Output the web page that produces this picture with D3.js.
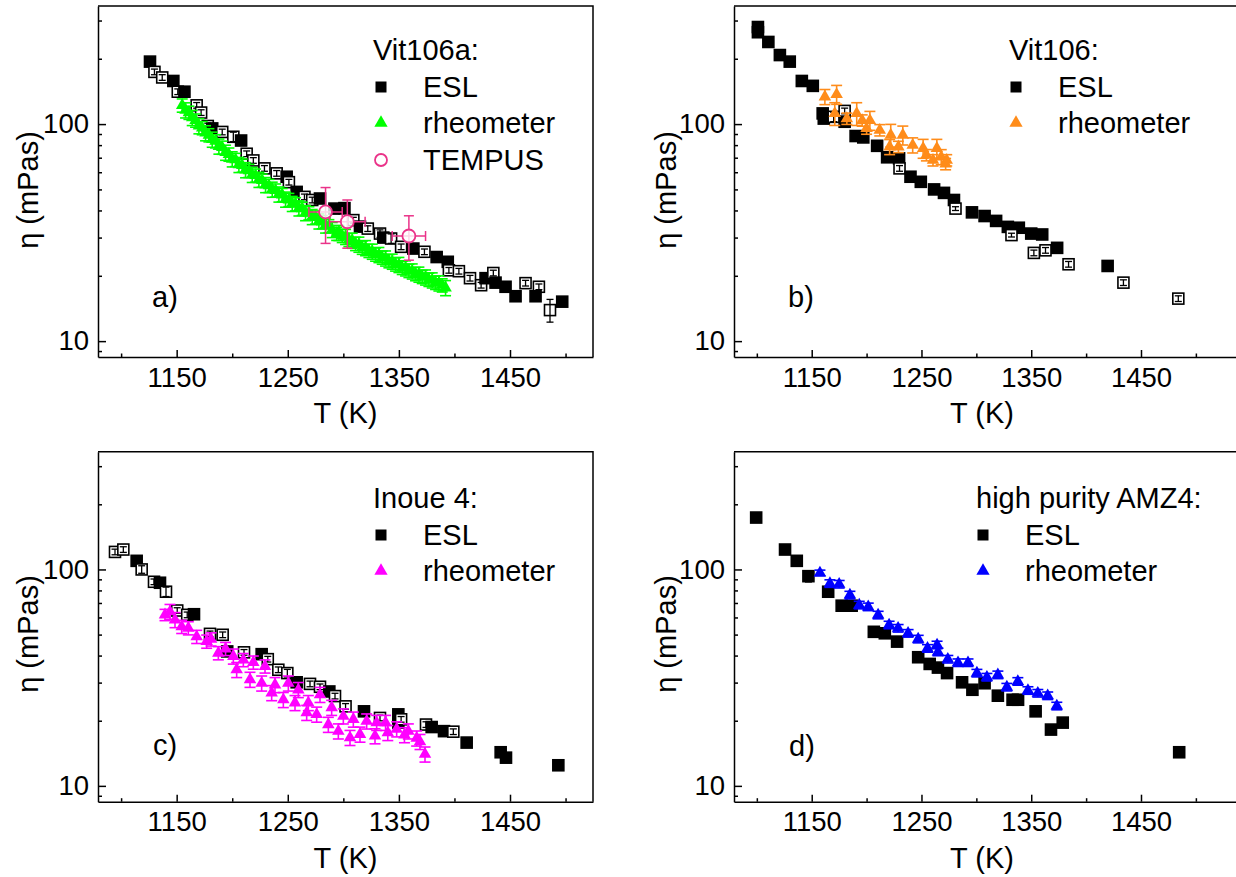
<!DOCTYPE html>
<html>
<head>
<meta charset="utf-8">
<script src="https://cdn.jsdelivr.net/npm/d3@7"></script>
<style>
  body { margin: 0; background: #fff; }
  svg { display: block; }
  text { font-family: "Liberation Sans", Arial, sans-serif; fill: #000; }
</style>
</head>
<body>
<svg id="chart" width="1236" height="877"></svg>
<script>
// ---- Viscosity data, T in K, eta in mPas ----
// ESL rows: [T, eta, relative error, open marker (1) or filled (0)]
// rheometer rows: [T, eta, relative error]
// TEMPUS rows: [T, eta, lower, upper, dT]

const eslA = [
  [1126,194,0.03,0],[1130,174,0.03,1],[1137,164,0.03,1],[1147,158,0.03,0],[1151,141,0.03,1],
  [1157,141,0.03,0],[1168,122,0.03,1],[1172,113,0.03,1],[1178,98,0.03,1],[1182,95.5,0.03,0],
  [1191,92,0.03,1],[1201,87.4,0.05,1],[1208,84,0.04,0],[1213,73,0.03,1],[1219,68,0.03,1],
  [1229,62.5,0.03,1],[1240,59.3,0.03,1],[1249,57.2,0.03,0],[1251,54,0.03,1],[1258,48.7,0.03,0],
  [1265,46.2,0.03,1],[1272,44.7,0.03,1],[1279,45.4,0.03,0],[1292,40.8,0.03,0],[1301,41,0.06,0],
  [1309,36.1,0.03,1],[1315,33.7,0.03,0],[1322,33,0.03,1],[1333,31.3,0.04,1],[1336,30,0.03,0],
  [1343,29.7,0.05,1],[1352,27.2,0.03,1],[1363,26.7,0.03,0],[1373,25.8,0.03,1],[1384,24.4,0.04,0],
  [1394,23.2,0.03,0],[1395,21.2,0.03,1],[1404,21,0.03,1],[1414,19.5,0.03,1],[1424,18.1,0.03,1],
  [1428,19.5,0.03,0],[1435,20.6,0.03,1],[1437,18.6,0.04,0],[1446,17.8,0.03,0],[1455,16.1,0.03,0],
  [1464,18.5,0.03,1],[1476,17.8,0.03,1],[1473,16.1,0.04,0],[1486,13.9,0.12,1],[1497,15.2,0.03,0]
];
const rheoA = [
  [1155,122,0.07],[1158,116,0.08],[1161,113,0.07],[1164,107,0.08],[1167,104,0.07],[1170,98,0.08],
  [1173,96,0.07],[1176,91,0.08],[1179,89,0.07],[1182,85,0.08],[1185,83.5,0.07],[1188,79,0.08],
  [1191,78,0.07],[1194,74,0.08],[1197,72.5,0.07],[1200,69,0.08],[1203,68.5,0.07],[1206,65,0.08],
  [1209,64.5,0.07],[1212,61.5,0.08],[1215,61,0.07],[1218,58.5,0.08],[1221,58,0.07],[1224,55.5,0.08],
  [1227,55,0.07],[1230,52.5,0.08],[1233,52,0.07],[1236,50,0.08],[1239,49.5,0.07],[1242,47.5,0.08],
  [1245,47.2,0.07],[1248,45,0.08],[1251,44.8,0.07],[1254,43,0.08],[1257,42.8,0.07],[1260,41,0.08],
  [1263,40.8,0.07],[1266,39,0.08],[1269,38.9,0.07],[1272,37.4,0.08],[1275,37.2,0.07],[1278,35.7,0.08],
  [1281,35.4,0.07],[1284,34.2,0.08],[1287,33.9,0.07],[1290,32.6,0.08],[1294,31.3,0.07],[1296,31.6,0.08],
  [1299,30.6,0.07],[1302,30.3,0.08],[1305,29.3,0.07],[1308,29.1,0.08],[1311,28.1,0.07],[1314,27.9,0.08],
  [1317,27.0,0.07],[1320,26.9,0.08],[1323,26.1,0.07],[1326,25.9,0.08],[1329,25.1,0.07],[1332,25.0,0.08],
  [1335,24.3,0.07],[1338,24.1,0.08],[1341,23.4,0.07],[1344,23.3,0.08],[1347,22.6,0.07],[1350,22.5,0.08],
  [1353,21.8,0.07],[1356,21.7,0.08],[1359,21.1,0.07],[1362,21.0,0.08],[1365,20.4,0.07],[1368,20.3,0.08],
  [1371,19.8,0.07],[1374,19.7,0.08],[1377,19.2,0.07],[1380,19.1,0.08],[1383,18.6,0.07],[1386,18.5,0.08],
  [1389,18.1,0.07],[1392,17.6,0.08]
];
const tempusA = [
  [1284,39.4,28.2,51,15],[1303.6,35.5,26.8,44.7,16],[1359,30.5,23.6,37.8,15]
];

const eslB = [
  [1101,280,0.02,0],[1101,265,0.02,0],[1110.5,239,0.02,0],[1121,208,0.02,0],[1130,194,0.02,0],
  [1141,158,0.02,0],[1151,150,0.02,0],[1160,112,0.03,0],[1161,106,0.03,0],[1170,108,0.05,1],
  [1180,115,0.03,1],[1180,102.5,0.03,0],[1190,88.1,0.03,0],[1197,86.8,0.03,0],[1209.6,79.4,0.03,0],
  [1218.7,70.3,0.03,0],[1229.6,69.5,0.03,0],[1230,62.5,0.03,1],[1240,57.2,0.02,0],[1249.4,54.2,0.02,0],
  [1261.5,50,0.02,0],[1270.5,48.2,0.02,0],[1279.6,44.7,0.02,0],[1281,40.8,0.02,1],[1296,39.2,0.02,0],
  [1307.5,37.7,0.02,0],[1318,35.8,0.02,0],[1328.7,33.6,0.02,0],[1338.7,33.3,0.02,0],[1332,30.8,0.02,1],
  [1350,31.3,0.02,0],[1360,31,0.02,0],[1352.4,25.5,0.03,1],[1363,26.2,0.03,1],[1373.6,26.9,0.02,0],
  [1384,22.6,0.03,1],[1419.6,22.2,0.02,0],[1434,18.6,0.03,1],[1484,15.7,0.03,1]
];
const rheoB = [
  [1162,133.6,0.08],[1172.7,137,0.1],[1171,112,0.12],[1182,106,0.06],[1191,112,0.12],[1196,104,0.06],
  [1203,104,0.1],[1200,95.5,0.06],[1212,93.8,0.06],[1222,89,0.12],[1221,78.6,0.08],[1233,89,0.1],
  [1229,78.6,0.06],[1242,80,0.08],[1251.5,77.3,0.1],[1254.5,72,0.06],[1264,77.3,0.1],[1260.5,68.2,0.06],
  [1268,70.6,0.08],[1273,68.2,0.06],[1272,65.5,0.06]
];

const eslC = [
  [1094.5,120.5,0.03,1],[1102,123.6,0.03,1],[1114,109.6,0.03,0],[1118.5,100,0.04,1],[1129.6,87.7,0.03,1],
  [1135,86.8,0.03,0],[1140.4,78.9,0.05,1],[1150.5,64.6,0.03,1],[1159.5,61.7,0.03,1],[1165.6,62.1,0.03,0],
  [1180,50.4,0.03,1],[1191.4,49.9,0.03,1],[1195.5,41.8,0.03,0],[1210.6,41.4,0.03,1],[1226.5,40.6,0.03,0],
  [1232,38.5,0.03,1],[1241.5,34.4,0.03,1],[1249.6,33.2,0.04,1],[1258,30.1,0.03,0],[1270,29.6,0.03,1],
  [1279,28.7,0.03,1],[1287.4,27.3,0.03,0],[1292.5,26,0.03,1],[1302,23.3,0.03,1],[1318.6,22.1,0.03,0],
  [1333,20.6,0.03,1],[1349.5,21.4,0.03,0],[1349.5,19.6,0.03,0],[1352,20.3,0.03,1],[1374.4,19.2,0.03,1],
  [1379.5,18.7,0.03,0],[1390.6,17.9,0.03,0],[1399,17.8,0.03,1],[1411,15.85,0.03,0],[1441.6,14.3,0.03,0],
  [1446.4,13.5,0.03,0],[1493.5,12.45,0.03,0]
];
const rheoC = [
  [1139.5,61.7,0.06],[1144,63.8,0.08],[1148.5,58.5,0.08],[1154.5,54.4,0.07],[1160.5,53.6,0.07],
  [1168,48.9,0.07],[1177,46.5,0.07],[1181,47.6,0.07],[1187.5,41.1,0.07],[1194,43,0.07],[1201,39.7,0.08],
  [1210,38.2,0.07],[1219,37.2,0.07],[1229.5,35.7,0.07],[1238.5,29.3,0.08],[1250.5,29.8,0.08],
  [1259.5,27.8,0.08],[1268.5,24.2,0.08],[1279,26.4,0.08],[1289.5,23,0.08],[1300,21,0.08],[1309,20.3,0.08],
  [1321,19.9,0.08],[1330,19.6,0.08],[1338,19.6,0.08],[1348,18.3,0.08],[1358.5,17.9,0.08],[1369,16,0.08],
  [1373.5,14,0.08],
  [1204,34.4,0.08],[1216,31,0.08],[1226.5,29.8,0.08],[1235.5,26.9,0.08],[1246,25,0.08],[1256.5,24.2,0.08],
  [1267,21.8,0.08],[1276,21.4,0.08],[1286.5,19.2,0.08],[1295.5,17.9,0.08],[1306,16.7,0.08],[1315,17.3,0.08],
  [1328.5,17,0.08],[1340,17.6,0.08],[1355,17.2,0.08],[1366,16.6,0.08]
];

const eslD = [
  [1099.4,173.7,0.03,0],[1125.7,123.6,0.03,0],[1136.4,109.6,0.03,0],[1147,93.1,0.06,0],[1165,78.9,0.03,0],
  [1177.3,68,0.04,0],[1186.4,68,0.04,0],[1206.6,51.5,0.04,0],[1216.6,50.7,0.04,0],[1227.8,46.4,0.04,0],
  [1247,39.3,0.04,0],[1257.5,36.6,0.04,0],[1265,35.2,0.03,0],[1273.3,33.2,0.03,0],[1287,30.1,0.04,0],
  [1296.4,27.8,0.04,0],[1307.5,29.8,0.03,0],[1319.6,26.1,0.03,0],[1333,25,0.03,0],[1338,25,0.03,0],
  [1354,22.1,0.04,0],[1368,18.2,0.03,0],[1378.7,19.6,0.03,0],[1484.8,14.3,0.03,0]
];
const rheoD = [
  [1157.5,96.4,0.03],[1166.6,86.1,0.04],[1175,85.5,0.04],[1184.8,76.2,0.04],[1193.3,68.5,0.04],
  [1201.5,67.2,0.04],[1210.5,61.6,0.04],[1220.5,55.4,0.04],[1228.7,53.5,0.04],[1237.8,50.7,0.04],
  [1247,47.7,0.04],[1255.5,43.2,0.04],[1264.2,44.8,0.04],[1265,41.6,0.04],[1274,38.5,0.04],
  [1283.3,37.1,0.04],[1292.4,37.1,0.04],[1300.5,33.2,0.04],[1309.6,31.8,0.04],[1319.6,32.6,0.04],
  [1327.8,28.6,0.04],[1337.8,30.4,0.04],[1347,27.6,0.04],[1356,26.8,0.04],[1365,26.1,0.04],[1373.3,23.4,0.04]
];

// ---- Axis ticks ----
const xMajorTicks = [1150, 1250, 1350, 1450];
const xMinorTicks = [1100, 1200, 1300, 1400, 1500];
const yMajorTicks = [10, 100];
const yMinorTicks = [9, 20, 30, 40, 50, 60, 70, 80, 90, 200, 300];
const yDomain = [8.45, 350];

// ---- Colours ----
const colGreen = "#00ff00", colOrange = "#ff8c1a", colMagenta = "#ff00ff",
      colBlue = "#0000ff", colPink = "#ea3389";

const svg = d3.select("#chart");
svg.append("rect").attr("width", 1236).attr("height", 877).attr("fill", "#fff");

const panels = [
  { key: "a", left: 98,  top: 6,     width: 495, height: 351, xDomain: [1079.2, 1524.7],
    label: "a)", labelPos: [152, 307], ytitle: [28, 190],
    legendTitle: "Vit106a:", legendPos: [373, 60], legendMarkX: 381, legendTextX: 423,
    esl: eslA, rheo: rheoA, rheoColor: colGreen, tempus: tempusA, titleX: 345.5 },
  { key: "b", left: 734, top: 6,     width: 506, height: 351, xDomain: [1079.2, 1540.2],
    label: "b)", labelPos: [788, 307], ytitle: [666, 190],
    legendTitle: "Vit106:", legendPos: [1009, 60], legendMarkX: 1016, legendTextX: 1058,
    esl: eslB, rheo: rheoB, rheoColor: colOrange, titleX: 982 },
  { key: "c", left: 98,  top: 451.7, width: 495, height: 350, xDomain: [1079.2, 1524.7],
    label: "c)", labelPos: [153, 755], ytitle: [28, 634],
    legendTitle: "Inoue 4:", legendPos: [373, 508], legendMarkX: 381, legendTextX: 423,
    esl: eslC, rheo: rheoC, rheoColor: colMagenta, titleX: 345.5 },
  { key: "d", left: 734, top: 451.7, width: 506, height: 350, xDomain: [1079.2, 1540.2],
    label: "d)", labelPos: [789, 756], ytitle: [666, 634],
    legendTitle: "high purity AMZ4:", legendPos: [976, 508], legendMarkX: 983, legendTextX: 1025,
    esl: eslD, rheo: rheoD, rheoColor: colBlue, titleX: 982 }
];

const triangle = d3.symbol().type(d3.symbolTriangle).size(68);
const triangleLegend = d3.symbol().type(d3.symbolTriangle).size(76);

panels.forEach(p => {
  const g = svg.append("g").attr("class", "panel-" + p.key);
  const bottom = p.top + p.height, right = p.left + p.width;
  const x = d3.scaleLinear().domain(p.xDomain).range([p.left, right]);
  const y = d3.scaleLog().domain(yDomain).range([bottom, p.top]);

  // clipping region for the data marks
  const clipId = "clip-" + p.key;
  g.append("clipPath").attr("id", clipId).append("rect")
    .attr("x", p.left).attr("y", p.top).attr("width", p.width).attr("height", p.height);
  const plot = g.append("g").attr("clip-path", `url(#${clipId})`);

  // ESL squares with their error bars
  const s = 11;
  p.esl.forEach(d => {
    const [T, v, e, open] = d;
    const cx = x(T), cy = y(v);
    const y1 = y(v * (1 - e)), y2 = y(v * (1 + e));
    plot.append("rect").attr("x", cx - s / 2).attr("y", cy - s / 2).attr("width", s).attr("height", s)
      .attr("fill", open ? "#fff" : "#000").attr("stroke", "#000").attr("stroke-width", 1.6);
    const eb = plot.append("g").attr("stroke", "#000").attr("stroke-width", 1.3);
    eb.append("line").attr("x1", cx).attr("x2", cx).attr("y1", y1).attr("y2", y2);
    eb.append("line").attr("x1", cx - 3.5).attr("x2", cx + 3.5).attr("y1", y1).attr("y2", y1);
    eb.append("line").attr("x1", cx - 3.5).attr("x2", cx + 3.5).attr("y1", y2).attr("y2", y2);
  });

  // rheometer triangles with error bars
  p.rheo.forEach(d => {
    const [T, v, e] = d;
    const cx = x(T), cy = y(v);
    const y1 = y(v * (1 - e)), y2 = y(v * (1 + e));
    const eb = plot.append("g").attr("stroke", p.rheoColor).attr("stroke-width", 1.6);
    eb.append("line").attr("x1", cx).attr("x2", cx).attr("y1", y1).attr("y2", y2);
    eb.append("line").attr("x1", cx - 5.5).attr("x2", cx + 5.5).attr("y1", y1).attr("y2", y1);
    eb.append("line").attr("x1", cx - 5.5).attr("x2", cx + 5.5).attr("y1", y2).attr("y2", y2);
    plot.append("path").attr("d", triangle).attr("transform", `translate(${cx},${cy})`)
      .attr("fill", p.rheoColor);
  });

  // TEMPUS circles with error bars in both directions
  if (p.tempus) {
    p.tempus.forEach(d => {
      const [T, v, lo, hi, dT] = d;
      const cx = x(T), cy = y(v);
      const eb = plot.append("g").attr("stroke", colPink).attr("stroke-width", 1.5);
      eb.append("line").attr("x1", cx).attr("x2", cx).attr("y1", y(lo)).attr("y2", y(hi));
      eb.append("line").attr("x1", cx - 5).attr("x2", cx + 5).attr("y1", y(lo)).attr("y2", y(lo));
      eb.append("line").attr("x1", cx - 5).attr("x2", cx + 5).attr("y1", y(hi)).attr("y2", y(hi));
      eb.append("line").attr("x1", x(T - dT)).attr("x2", x(T + dT)).attr("y1", cy).attr("y2", cy);
      eb.append("line").attr("x1", x(T - dT)).attr("x2", x(T - dT)).attr("y1", cy - 5).attr("y2", cy + 5);
      eb.append("line").attr("x1", x(T + dT)).attr("x2", x(T + dT)).attr("y1", cy - 5).attr("y2", cy + 5);
      plot.append("circle").attr("cx", cx).attr("cy", cy).attr("r", 6.5)
        .attr("fill", "#fff").attr("fill-opacity", 0.8)
        .attr("stroke", colPink).attr("stroke-width", 1.8);
    });
  }

  // axes: inward ticks
  const axisStyle = sel => {
    sel.selectAll("path, line").attr("stroke", "#000").attr("stroke-width", 1.5);
    sel.selectAll("text").style("font-size", "27.5px").attr("fill", "#000");
  };
  g.append("g").attr("transform", `translate(0,${bottom})`)
    .call(d3.axisBottom(x).tickValues(xMinorTicks).tickSize(-3.5).tickSizeOuter(0).tickFormat(""))
    .call(axisStyle).select(".domain").remove();
  g.append("g").attr("transform", `translate(0,${bottom})`)
    .call(d3.axisBottom(x).tickValues(xMajorTicks).tickSize(-7).tickSizeOuter(0)
      .tickPadding(10).tickFormat(d3.format("d")))
    .call(axisStyle);
  g.append("g").attr("transform", `translate(${p.left},0)`)
    .call(d3.axisLeft(y).tickValues(yMinorTicks).tickSize(-4).tickSizeOuter(0).tickFormat(""))
    .call(axisStyle).select(".domain").remove();
  g.append("g").attr("transform", `translate(${p.left},0)`)
    .call(d3.axisLeft(y).tickValues(yMajorTicks).tickSize(-8).tickSizeOuter(0)
      .tickPadding(9).tickFormat(d3.format("d")))
    .call(axisStyle);

  // top and right frame
  g.append("path").attr("d", `M${p.left},${p.top}H${right}V${bottom}`)
    .attr("fill", "none").attr("stroke", "#000").attr("stroke-width", 1.5);

  // axis titles
  g.append("text").attr("x", p.titleX).attr("y", bottom + 66).attr("text-anchor", "middle")
    .style("font-size", "29px").text("T (K)");
  g.append("text").attr("transform", `translate(${p.ytitle[0]},${p.ytitle[1]}) rotate(-90)`)
    .attr("text-anchor", "middle").attr("dy", "0.35em").style("font-size", "29px").text("η (mPas)");

  // panel letter
  g.append("text").attr("x", p.labelPos[0]).attr("y", p.labelPos[1])
    .style("font-size", "29px").text(p.label);

  // legend
  const lg = g.append("g");
  lg.append("text").attr("x", p.legendPos[0]).attr("y", p.legendPos[1])
    .style("font-size", "29px").text(p.legendTitle);
  const row1 = p.legendPos[1] + 27, row2 = p.legendPos[1] + 63, row3 = p.legendPos[1] + 100;
  lg.append("rect").attr("x", p.legendMarkX - 5.5).attr("y", row1 - 5.5).attr("width", 11).attr("height", 11)
    .attr("fill", "#000");
  lg.append("text").attr("x", p.legendTextX).attr("y", row1 + 10).style("font-size", "29px").text("ESL");
  lg.append("path").attr("d", triangleLegend).attr("transform", `translate(${p.legendMarkX},${row2})`)
    .attr("fill", p.rheoColor);
  lg.append("text").attr("x", p.legendTextX).attr("y", row2 + 10).style("font-size", "29px").text("rheometer");
  if (p.tempus) {
    lg.append("circle").attr("cx", p.legendMarkX).attr("cy", row3).attr("r", 6)
      .attr("fill", "#fff").attr("stroke", colPink).attr("stroke-width", 1.8);
    lg.append("text").attr("x", p.legendTextX).attr("y", row3 + 10).style("font-size", "29px").text("TEMPUS");
  }
});
</script>
</body>
</html>
